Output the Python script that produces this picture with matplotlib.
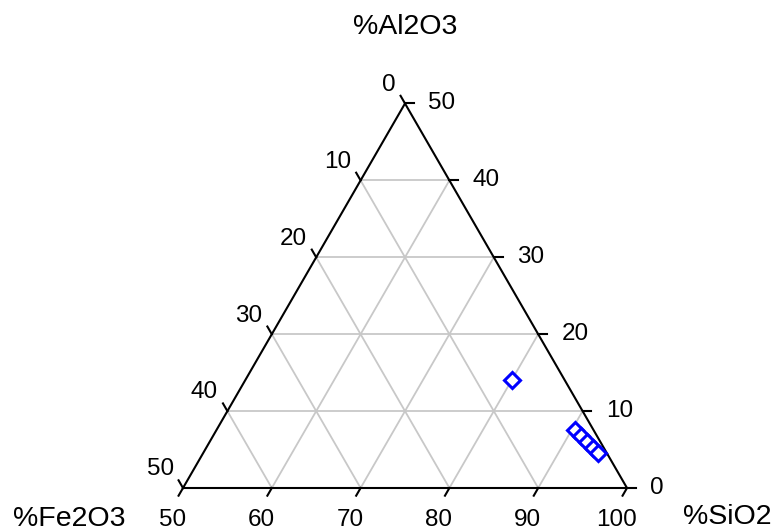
import numpy as np
import matplotlib.pyplot as plt

plt.rcParams['font.family'] = ['Liberation Sans', 'DejaVu Sans']

# sample compositions (wt %)
sio2 = [80.0, 90.4, 91.4, 92.5, 93.6, 94.5]
al2o3 = [14.0, 7.5, 6.8, 6.0, 5.2, 4.5]
fe2o3 = [6.0, 2.1, 1.8, 1.5, 1.2, 1.0]

ticks = [0, 10, 20, 30, 40, 50]
sio2_labels = ['50', '60', '70', '80', '90', '100']

H = np.sqrt(3) / 2


def to_xy(s, a, f):
    """Sub-triangle SiO2 50-100: bottom-left Fe2O3 50, top Al2O3 50."""
    s, a, f = np.asarray(s, float), np.asarray(a, float), np.asarray(f, float)
    tot = s + a + f
    a = a * 100 / tot
    f = f * 100 / tot
    return 50 - f - a / 2, a * H


fig = plt.figure(figsize=(7.76, 5.31), dpi=100)
ax = fig.add_axes([0, 0, 1, 1])
ax.set_xlim(-183 / 8.88, 593 / 8.88)
ax.set_ylim(-43 / 8.88, 488 / 8.88)
ax.axis('off')

grid = dict(color='#c8c8c8', lw=1.3, zorder=1)
for v in ticks[1:-1]:
    # constant Al2O3
    x0, y0 = to_xy(100 - v, v, 0)
    x1, y1 = to_xy(50, v, 50 - v)
    ax.plot([x0, x1], [y0, y1], **grid)
    # constant Fe2O3
    x0, y0 = to_xy(100 - v, 0, v)
    x1, y1 = to_xy(50, 50 - v, v)
    ax.plot([x0, x1], [y0, y1], **grid)
    # constant SiO2
    x0, y0 = to_xy(50 + v, 0, 50 - v)
    x1, y1 = to_xy(50 + v, 50 - v, 0)
    ax.plot([x0, x1], [y0, y1], **grid)

# outline
tx, ty = to_xy([50, 100, 50, 50], [0, 0, 50, 0], [50, 0, 0, 50])
ax.plot(tx, ty, color='black', lw=1.5, zorder=2)

tl = 1.0
fs = 17.5
for i, v in enumerate(ticks):
    # bottom axis: SiO2
    x, y = to_xy(50 + v, 0, 50 - v)
    ax.plot([x, x - tl * 0.5], [y, y - tl * H], color='black', lw=1.5)
    ax.text(x - 1.2, y - 3.6, sio2_labels[i], fontsize=fs, ha='center', va='center')
    # right axis: Al2O3
    x, y = to_xy(100 - v, v, 0)
    ax.plot([x, x + tl], [y, y], color='black', lw=1.5)
    ax.text(x + 2.6, y, str(v), fontsize=fs, ha='left', va='center')
    # left axis: Fe2O3
    x, y = to_xy(50, 50 - v, v)
    ax.plot([x, x - tl * 0.5], [y, y + tl * H], color='black', lw=1.5)
    ax.text(x - 1.05, y + 2.1, str(v), fontsize=fs, ha='right', va='center')

ax.text(25, (488 - 27) / 8.88, '%Al2O3', fontsize=20.5, ha='center', va='center')
ax.text((69 - 183) / 8.88, (488 - 519) / 8.88, '%Fe2O3', fontsize=20.5, ha='center', va='center')
ax.text((727 - 183) / 8.88, (488 - 517) / 8.88, '%SiO2', fontsize=20.5, ha='center', va='center')

px, py = to_xy(sio2, al2o3, fe2o3)
ax.plot(px, py, ls='none', marker='D', ms=8, mfc='white', mec='blue', mew=2.2, zorder=3)

fig.savefig('out.png', dpi=100)
